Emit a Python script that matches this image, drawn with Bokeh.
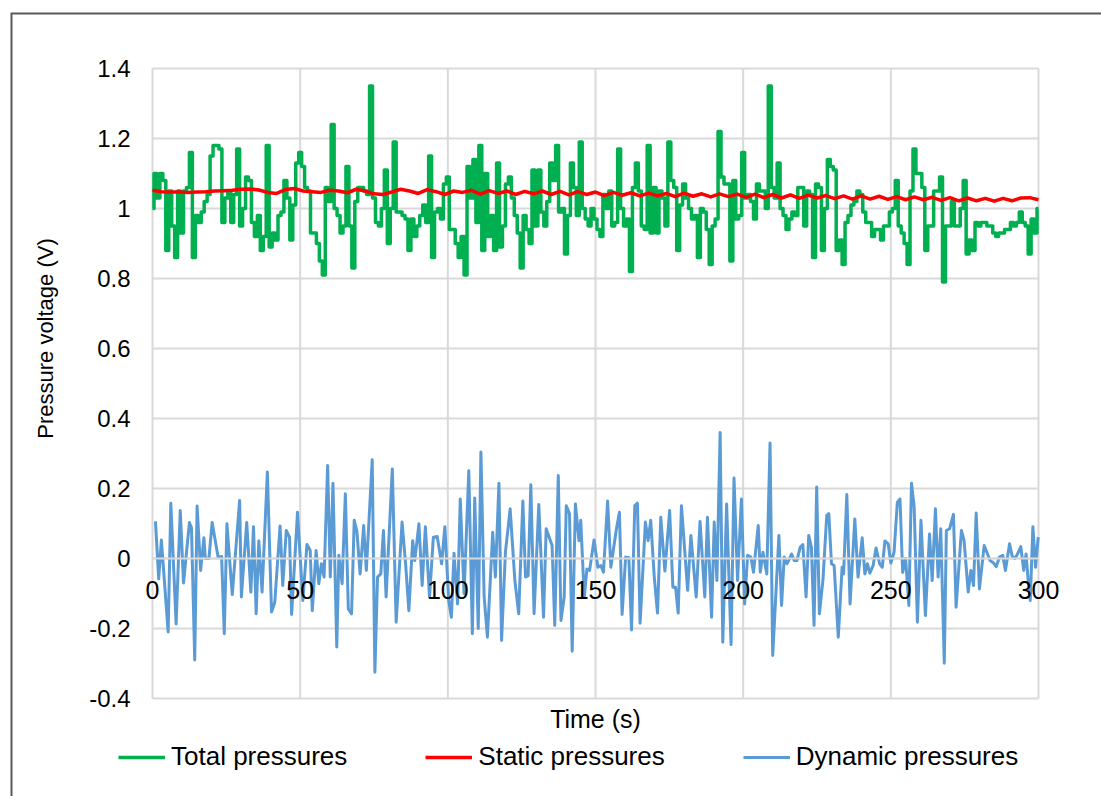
import math
from bokeh.plotting import figure
from bokeh.models import (Range1d, FixedTicker, CustomJSTickFormatter, Legend, LegendItem,
                          Label, BoxAnnotation)
from bokeh.embed import file_html
from bokeh.resources import INLINE

# ---------------- data ----------------
x_ticks = [0, 50, 100, 150, 200, 250, 300]
y_ticks = [-0.4, -0.2, 0, 0.2, 0.4, 0.6, 0.8, 1.0, 1.2, 1.4]

# Total pressures, one value per second (t = 0 ... 300)
total_time = list(range(0, 301))
total_pressure = [
    1.0, 1.1, 1.03, 1.10, 1.08, 0.88, 1.05, 0.95, 0.86, 1.05, 0.93, 1.05, 1.06, 1.16, 0.86, 0.98, 0.96,
    0.99, 1.02, 1.04, 1.15, 1.18, 1.18, 1.17, 0.96, 1.03, 1.05, 0.96, 1.04, 1.17, 0.95, 1.0, 1.09, 1.08,
    0.96, 0.92, 0.98, 0.88, 0.92, 1.18, 0.89, 0.93, 0.91, 0.98, 0.99, 1.08, 1.03, 0.91, 1.01, 1.13, 1.16,
    1.12, 1.06, 1.05, 0.93, 0.93, 0.90, 0.85, 0.81, 1.06, 1.02, 1.24, 1.0, 0.98, 0.93, 0.95, 1.12, 0.95,
    0.83, 1.02, 1.06, 1.06, 1.05, 1.04, 1.35, 1.03, 0.96, 0.95, 1.0, 1.11, 0.90, 1.0, 1.19, 0.99, 0.99,
    0.98, 0.97, 0.88, 0.97, 0.92, 0.95, 0.98, 1.01, 0.96, 1.15, 0.86, 0.99, 1.0, 0.97, 1.07,
    1.09, 0.94, 0.94, 0.90, 0.86, 0.92, 0.81, 1.12, 1.03, 1.14, 0.96, 1.18, 0.88, 1.1, 0.92, 0.98, 0.88,
    1.13, 0.89, 0.95, 1.07, 1.09, 1.03, 0.98, 0.93, 0.83, 0.98, 0.94, 0.90, 1.11, 0.95, 1.11, 0.99, 0.95,
    1.02, 1.13, 1.08, 1.18, 0.99, 1.0, 0.87, 0.98, 1.13, 1.06, 0.98, 1.19, 1.0, 0.97, 0.95, 1.0, 0.97,
    0.94, 0.92, 1.04, 1.0, 1.05, 0.95, 0.96, 1.17, 1.0, 0.95, 0.97, 0.82, 1.06, 1.13, 1.05, 0.95, 0.94,
    1.18, 0.93, 1.06, 0.93, 1.05, 1.03, 0.95, 1.19, 1.08, 1.06, 0.88, 1.01, 1.07, 1.03, 1.0, 0.97, 0.98,
    0.86, 1.0, 0.99, 0.94, 0.84, 0.95, 0.97, 1.22, 1.09, 1.07, 1.07, 0.85, 1.08, 0.97, 0.98,
    1.16, 1.03, 1.04, 1.02, 0.97, 1.07, 1.05, 1.05, 1.0, 1.35, 1.06, 1.03, 1.13, 1.0, 0.98, 0.94, 0.97,
    0.99, 0.98, 1.06, 1.06, 0.95, 1.05, 1.04, 0.86, 1.07, 1.06, 0.88, 1.0, 1.14, 1.12, 1.11, 0.88, 0.91,
    0.84, 0.96, 0.98, 1.01, 1.02, 1.05, 1.04, 0.99, 0.96, 0.96, 0.92, 0.94, 0.94, 0.91, 0.95, 0.95, 0.99,
    1.0, 1.08, 0.95, 0.93, 0.90, 0.84, 1.05, 1.17, 1.1, 1.1, 1.06, 0.88, 0.95, 0.95, 1.05, 1.05, 1.09,
    0.79, 0.95, 0.95, 1.02, 0.95, 0.95, 1.0, 1.08, 0.87, 0.91, 0.88, 0.96, 0.95, 0.96, 0.96, 0.95, 0.95,
    0.93, 0.92, 0.93, 0.93, 0.94, 0.94, 0.96, 0.95, 0.96, 0.99, 0.96, 0.95, 0.87, 0.97, 0.93, 1.0,
]

# Static pressures, every 3 s (t = 0 ... 300)
static_time = list(range(0, 301, 3))
static_pressure = [
    1.052, 1.048, 1.047, 1.047, 1.046, 1.047, 1.048, 1.050, 1.051, 1.052, 1.055, 1.056, 1.053, 1.046,
    1.043, 1.054, 1.057, 1.050, 1.048, 1.046, 1.052, 1.050, 1.045, 1.055, 1.050, 1.042, 1.040, 1.047,
    1.055, 1.050, 1.043, 1.054, 1.048, 1.040, 1.050, 1.046, 1.052, 1.041, 1.051, 1.043, 1.050, 1.040,
    1.049, 1.042, 1.050, 1.040, 1.049, 1.039, 1.048, 1.040, 1.047, 1.037, 1.046, 1.038, 1.045, 1.036,
    1.044, 1.036, 1.043, 1.034, 1.044, 1.035, 1.042, 1.033, 1.042, 1.034, 1.041, 1.032, 1.041, 1.031,
    1.040, 1.030, 1.039, 1.029, 1.038, 1.030, 1.037, 1.028, 1.036, 1.027, 1.036, 1.027, 1.035, 1.026,
    1.034, 1.025, 1.033, 1.025, 1.032, 1.023, 1.031, 1.022, 1.030, 1.022, 1.029, 1.021, 1.029, 1.022,
    1.030, 1.031, 1.025,
]

# Dynamic pressures (time, value)
dynamic_time = [
    1.0, 2.1, 3.0, 5.3, 6.2, 8.0, 9.4, 10.5, 12.5, 13.2, 14.3, 15.1, 16.3, 17.4, 17.9, 19.1, 20.2, 22.2,
    23.4, 24.3, 25.2, 27.0, 29.5, 30.1, 31.9, 33.3, 34.2, 35.1, 36.0, 37.1, 38.9, 40.3, 41.4, 43.2, 44.1,
    45.3, 46.4, 47.1, 49.1,
    50.9, 52.3, 53.4, 54.1, 55.4, 56.3, 57.2, 58.1, 59.3, 60.2, 61.1, 62.4, 63.1, 64.2, 65.3, 66.3, 67.4,
    68.3, 69.2, 70.3, 71.5, 72.4, 74.4, 75.3, 76.2, 77.3, 78.2, 79.1, 81.2, 82.5, 84.5, 85.7, 86.8, 88.1,
    88.8, 90.2, 91.3, 92.4, 93.8, 95.1, 96.4, 97.9, 99.0,
    100.3, 101.2, 102.1, 103.3, 104.2, 105.5, 107.1, 108.3, 109.1, 110.3, 111.2, 112.3, 113.4, 115.2,
    116.1, 117.3, 118.2, 119.5, 121.1, 122.7, 124.0, 125.4, 126.3, 127.2, 128.1, 129.2, 130.8, 132.4,
    133.3, 135.3, 136.2, 137.4, 138.3, 139.4, 140.1, 141.2, 142.1, 143.2, 144.4, 145.0, 146.2, 147.1,
    148.0, 149.5,
    150.8, 151.8, 152.7, 154.1, 155.2, 157.0, 158.1, 159.0, 160.2, 161.3, 162.2, 163.3, 164.2, 165.1,
    166.9, 167.8, 168.7, 169.9, 171.0, 172.1, 173.5, 175.1, 176.2, 177.1, 178.0, 179.1, 181.2, 182.3,
    184.1, 185.4, 187.0, 187.9, 189.3, 190.2, 191.1, 192.2, 193.1, 194.4, 195.9, 196.9, 198.1, 199.4,
    200.5,
    201.5, 202.6, 203.5, 205.1, 205.8, 206.7, 208.0, 209.1, 210.0, 212.1, 213.0, 213.9, 214.8, 215.7,
    216.4, 217.3, 218.2, 219.3, 220.2, 221.3, 222.2, 223.1, 224.0, 224.9, 225.8, 227.0, 228.3, 229.0,
    229.9, 230.8, 232.2, 233.5, 234.0, 235.1, 236.2, 237.8, 238.9, 240.3, 241.2, 242.1, 242.9, 244.0,
    245.0, 246.2, 247.1, 248.0, 249.1, 250.0, 251.1, 252.2, 253.1,
    254.0, 255.0, 256.1, 257.0, 257.9, 259.0, 260.2, 261.7, 263.1, 264.0, 265.1, 266.0, 266.9, 268.1,
    268.8, 269.9, 271.2, 272.1, 273.9, 274.8, 276.2, 277.1, 278.0, 278.9, 280.0, 281.6, 282.5, 283.6,
    284.8, 285.7, 286.8, 287.9, 288.8, 290.2, 291.1, 292.0, 292.9, 294.0, 295.0, 295.8, 296.5, 297.2,
    298.1, 299.0, 299.9,
]
dynamic_pressure = [
    0.106, -0.058, 0.053, -0.21, 0.158, -0.187, 0.137, -0.07, 0.103, 0.088, -0.29, 0.15, -0.034, 0.059,
    0.0, 0.0, 0.103, 0.004, 0.006, -0.215, 0.099, -0.103, 0.166, -0.11, 0.103, -0.096, 0.091, -0.158,
    0.05, -0.096, 0.247, -0.153, -0.125, 0.093, -0.077, 0.08, 0.061, -0.16, 0.132,
    -0.12, 0.04, 0.023, -0.149, 0.023, -0.072, -0.015, -0.053, 0.266, -0.053, 0.215, -0.253, 0.009,
    -0.072, 0.185, -0.144, -0.158, 0.109, 0.078, -0.044, 0.094, -0.034, 0.282, -0.325, -0.053, -0.044,
    0.08, -0.11, 0.256, -0.182, 0.104, -0.015, -0.149, 0.051, -0.006, 0.099, -0.077, 0.091, -0.11,
    0.061, 0.063, -0.015, 0.091,
    -0.12, -0.168, 0.015, -0.13, 0.17, -0.10, 0.251, -0.215, 0.173, -0.2, 0.304, -0.11, -0.225, 0.075,
    -0.053, 0.215, -0.234, 0.018, 0.142, -0.063, -0.158, 0.164, -0.053, -0.049, 0.211, -0.158, 0.154,
    -0.168, 0.085, 0.037, -0.191, 0.237, -0.177, -0.11, 0.151, 0.128, -0.265, 0.156, 0.051, 0.109,
    -0.11, -0.03, -0.034, 0.053,
    -0.025, -0.02, -0.039, 0.164, -0.025, 0.08, 0.132, -0.16, 0.004, 0.002, -0.204, 0.151, 0.158,
    -0.185, 0.104, 0.051, 0.109, -0.053, -0.156, 0.118, -0.036, 0.137, -0.082, -0.082, -0.156, 0.151,
    -0.091, 0.066, -0.11, 0.106, -0.11, 0.118, -0.168, 0.104, -0.063, 0.36, -0.239, 0.156, -0.246,
    0.23, -0.063, 0.17, -0.13,
    0.009, 0.004, -0.039, 0.094, -0.039, 0.018, -0.044, 0.33, -0.277, 0.066, -0.134, 0.004, -0.015,
    -0.001, 0.013, -0.006, -0.006, 0.032, 0.04, -0.11, 0.066, 0.032, -0.191, 0.204, -0.158, -0.063,
    0.123, 0.128, -0.015, -0.02, -0.225, -0.025, -0.044, 0.183, -0.13, 0.113, -0.053, 0.059, -0.044,
    -0.015, -0.042, -0.02, 0.03, -0.015, -0.025, 0.05, 0.042, -0.013, 0.018, 0.16, 0.17,
    -0.04, 0.0, -0.134, 0.215, 0.147, -0.182, 0.109, -0.163, 0.07, -0.063, 0.142, -0.053, 0.085,
    -0.299, 0.08, 0.085, 0.126, -0.139, 0.08, 0.051, -0.096, -0.034, -0.077, 0.13, -0.087, 0.037,
    0.018, -0.006, -0.013, -0.023, 0.004, 0.009, -0.034, 0.042, 0.006, 0.0, 0.013, 0.034, -0.034,
    0.013, -0.063, -0.12, 0.091, -0.025, 0.061,
]

series_names = ["Total pressures", "Static pressures", "Dynamic pressures"]
series_colors = ["#00B050", "#FF0000", "#5B9BD5"]
x_title = "Time (s)"
y_title = "Pressure voltage (V)"

# ---------------- layout constants ----------------
W, H = 1101, 796
PX_LEFT, PX_RIGHT, PX_TOP, PX_BOTTOM = 152, 1038, 68, 698   # plot area in pixels
FRAME_LEFT, FRAME_TOP = 10, 12                             # outer chart border
X_MIN, X_MAX, Y_MIN, Y_MAX = 0, 300, -0.4, 1.4
sx = (PX_RIGHT - PX_LEFT) / (X_MAX - X_MIN)
sy = (PX_BOTTOM - PX_TOP) / (Y_MAX - Y_MIN)
x_start = X_MIN - (PX_LEFT - FRAME_LEFT) / sx
x_end = X_MAX + (W - PX_RIGHT) / sx
y_end = Y_MAX + (PX_TOP - FRAME_TOP) / sy
y_start = Y_MIN - (H - PX_BOTTOM) / sy

FONT = "Liberation Sans"
GRID = "#d9d9d9"

# ---------------- figure ----------------
p = figure(width=W, height=H, output_backend="svg", toolbar_location=None,
           x_range=Range1d(x_start, x_end), y_range=Range1d(y_start, y_end),
           min_border_left=FRAME_LEFT, min_border_right=0, min_border_top=FRAME_TOP,
           min_border_bottom=0)
p.background_fill_color = "white"
p.border_fill_color = "white"
p.outline_line_color = None
p.xgrid.visible = False
p.ygrid.visible = False

# grid lines restricted to the plot area
p.segment(x0=x_ticks, y0=[Y_MIN] * len(x_ticks), x1=x_ticks, y1=[Y_MAX] * len(x_ticks),
          line_color=GRID, line_width=2)
p.segment(x0=[X_MIN] * len(y_ticks), y0=y_ticks, x1=[X_MAX] * len(y_ticks), y1=y_ticks,
          line_color=GRID, line_width=2)

# x axis crossing at y = 0
xa = p.xaxis[0]
xa.fixed_location = 0
xa.bounds = (X_MIN, X_MAX)
xa.ticker = FixedTicker(ticks=x_ticks)
xa.axis_line_color = GRID
xa.axis_line_width = 2
xa.major_tick_in = 0
xa.major_tick_out = 0
xa.minor_tick_line_color = None
xa.major_label_standoff = 22
xa.major_label_text_font = FONT
xa.major_label_text_font_size = "25px"
xa.major_label_text_color = "#000000"

# y axis at x = 0
ya = p.yaxis[0]
ya.fixed_location = X_MIN
ya.bounds = (Y_MIN, Y_MAX)
ya.ticker = FixedTicker(ticks=y_ticks)
ya.formatter = CustomJSTickFormatter(code="return tick.toFixed(1).replace(/\\.0$/, '')")
ya.axis_line_color = None
ya.major_tick_in = 0
ya.major_tick_out = 0
ya.minor_tick_line_color = None
ya.major_label_standoff = 22
ya.major_label_text_font = FONT
ya.major_label_text_font_size = "24px"
ya.major_label_text_color = "#000000"

r_total = p.step(total_time, total_pressure, mode="center", line_color=series_colors[0],
                 line_width=3.5, line_join="round")
r_static = p.line(static_time, static_pressure, line_color=series_colors[1], line_width=3.5,
                  line_join="round")
r_dyn = p.line(dynamic_time, dynamic_pressure, line_color=series_colors[2], line_width=3,
               line_join="round")

# axis titles (data units)
p.add_layout(Label(x=(X_MIN + X_MAX) / 2, y=Y_MIN - 20 / sy, text=x_title,
                   text_font=FONT, text_font_size="25px", text_align="center",
                   text_baseline="middle", text_color="#000000"))
p.add_layout(Label(x=X_MIN - 107 / sx, y=Y_MAX - (338 - PX_TOP) / sy, text=y_title,
                   angle=math.pi / 2, text_font=FONT, text_font_size="22px", text_align="center",
                   text_baseline="middle", text_color="#000000"))

# outer chart border (left and top edges visible)
p.add_layout(BoxAnnotation(left=x_start, right=x_end + 100, top=y_end, bottom=y_start - 1,
                           fill_alpha=0, line_color="#595959", line_width=4, line_alpha=1))

legend = Legend(items=[LegendItem(label=series_names[0], renderers=[r_total]),
                       LegendItem(label=series_names[1], renderers=[r_static]),
                       LegendItem(label=series_names[2], renderers=[r_dyn])],
                orientation="horizontal", location=(108, 24),
                label_text_font=FONT, label_text_font_size="26px", label_text_color="#000000",
                glyph_width=47, glyph_height=26, label_height=26, label_standoff=6, spacing=78,
                padding=0, margin=0, border_line_color=None, background_fill_alpha=0)
p.add_layout(legend)

open("out.html", "w").write(file_html(p, INLINE))
